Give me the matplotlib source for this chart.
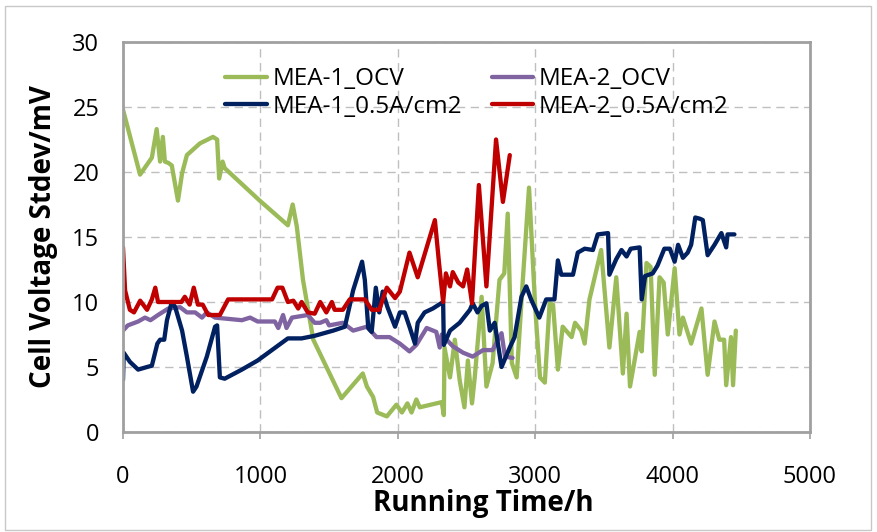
import matplotlib
matplotlib.use("Agg")
import matplotlib.pyplot as plt
from matplotlib.patches import Rectangle

plt.rcParams['font.family'] = ['Open Sans', 'DejaVu Sans']

# ---- data ----
green_t = [0, 124, 210, 245, 270, 290, 305, 330, 355, 400, 430, 465, 560, 655, 685, 700, 725, 740,
           995, 1200, 1235, 1265, 1310, 1385, 1590, 1745, 1775, 1820, 1850, 1920, 1990, 2030, 2070,
           2100, 2135, 2160, 2320, 2335, 2340, 2380, 2415, 2450, 2485, 2510, 2540, 2560, 2610, 2645,
           2690, 2740, 2775, 2800, 2830, 2865, 2910, 2955, 3000, 3035, 3070, 3105, 3130, 3165, 3200,
           3265, 3290, 3335, 3360, 3395, 3480, 3540, 3590, 3638, 3665, 3690, 3760, 3775, 3810, 3840,
           3870, 3905, 3935, 3965, 4015, 4050, 4075, 4135, 4210, 4255, 4305, 4340, 4375, 4390, 4425,
           4440, 4460]
green_v = [24.8, 19.8, 21.1, 23.3, 20.8, 22.7, 20.8, 20.7, 20.5, 17.8, 19.9, 21.3, 22.2, 22.7, 22.5,
           19.5, 20.8, 20.3, 17.8, 15.9, 17.5, 15.8, 11.7, 7.1, 2.6, 4.5, 3.5, 2.7, 1.5, 1.2, 2.1, 1.5,
           2.2, 1.5, 2.5, 1.9, 2.3, 1.3, 6.5, 4.2, 7.1, 4.0, 1.9, 5.5, 2.2, 4.2, 10.4, 3.5, 5.3, 11.7,
           12.2, 16.8, 5.3, 4.2, 11.7, 18.8, 9.6, 4.2, 3.8, 9.9, 9.8, 4.8, 8.1, 7.3, 8.4, 7.8, 6.8,
           10.2, 14.0, 6.5, 11.9, 4.5, 9.1, 3.5, 7.7, 6.2, 13.0, 12.7, 4.4, 11.9, 11.5, 7.5, 12.6, 7.5,
           8.8, 6.8, 9.5, 4.4, 8.5, 7.1, 7.1, 3.6, 7.3, 3.6, 7.8]

purple_t = [0, 35, 110, 160, 200, 255, 330, 415, 465, 525, 575, 610, 670, 865, 925, 980, 1105, 1130,
            1165, 1190, 1230, 1345, 1395, 1435, 1480, 1500, 1600, 1675, 1775, 1845, 1940, 2015, 2085,
            2135, 2210, 2280, 2305, 2320, 2400, 2475, 2545, 2620, 2690, 2755, 2780, 2835]
purple_v = [7.8, 8.2, 8.5, 8.8, 8.6, 9.0, 9.5, 9.6, 9.2, 9.2, 8.8, 9.2, 8.8, 8.6, 8.8, 8.5, 8.5, 8.0,
            9.0, 8.0, 8.8, 9.0, 8.4, 8.4, 8.6, 8.2, 8.4, 7.8, 8.1, 7.3, 7.3, 6.8, 6.2, 6.7, 8.0, 7.7,
            6.5, 7.5, 6.6, 6.1, 5.8, 6.3, 6.3, 7.6, 5.8, 5.7]

navy_t = [0, 5, 50, 110, 175, 210, 250, 270, 300, 320, 355, 380, 430, 465, 510, 535, 610, 670, 685,
          705, 740, 865, 980, 1200, 1300, 1395, 1530, 1615, 1675, 1740, 1760, 1785, 1810, 1840, 1865,
          1890, 1925, 1980, 2015, 2050, 2085, 2125, 2145, 2195, 2255, 2330, 2335, 2380, 2450, 2525,
          2545, 2580, 2610, 2645, 2670, 2705, 2755, 2815, 2850, 2900, 2935, 2970, 3030, 3080, 3140,
          3165, 3190, 3275, 3310, 3360, 3420, 3455, 3530, 3540, 3590, 3628, 3665, 3695, 3760, 3775,
          3800, 3855, 3890, 3940, 3980, 4015, 4040, 4075, 4110, 4135, 4165, 4200, 4220, 4255, 4305,
          4355, 4390, 4400, 4450]
navy_v = [4.0, 6.1, 5.4, 4.8, 5.0, 5.1, 6.8, 7.1, 7.1, 8.6, 10.0, 9.6, 7.8, 5.8, 3.1, 3.5, 5.8, 8.1,
          8.2, 4.2, 4.1, 4.8, 5.5, 7.2, 7.2, 7.4, 7.8, 8.1, 10.9, 13.1, 11.7, 8.0, 7.7, 11.1, 9.2,
          10.8, 9.6, 8.1, 9.2, 9.2, 8.1, 6.8, 8.4, 9.2, 9.5, 10.0, 6.7, 7.8, 8.4, 9.4, 9.9, 9.2, 9.7,
          9.9, 7.8, 8.4, 5.0, 6.5, 7.3, 10.4, 11.2, 10.2, 8.8, 10.2, 10.2, 13.2, 12.1, 12.1, 13.8,
          14.1, 14.0, 15.2, 15.3, 12.1, 13.3, 14.0, 13.5, 14.1, 14.2, 10.2, 12.0, 12.2, 12.8, 14.1,
          14.1, 13.1, 14.4, 13.4, 13.8, 14.4, 16.5, 16.4, 16.3, 13.6, 14.4, 15.3, 14.2, 15.2, 15.2]

red_t = [0, 15, 50, 80, 125, 175, 210, 235, 255, 425, 450, 485, 515, 545, 580, 620, 705, 765, 1085,
         1125, 1160, 1200, 1240, 1275, 1300, 1345, 1395, 1435, 1480, 1520, 1540, 1600, 1650, 1760,
         1810, 1865, 1920, 1980, 2015, 2085, 2145, 2270, 2300, 2330, 2350, 2380, 2400, 2440, 2475,
         2505, 2540, 2590, 2645, 2715, 2765, 2815]
red_v = [14.2, 10.9, 9.4, 9.2, 10.1, 9.4, 10.2, 11.1, 10.0, 10.0, 10.4, 9.8, 11.1, 9.8, 9.8, 9.0,
         9.0, 10.2, 10.2, 11.1, 11.1, 10.0, 10.1, 9.5, 10.0, 9.2, 9.1, 10.0, 9.2, 10.0, 9.4, 9.4,
         10.2, 10.2, 9.4, 9.4, 11.1, 10.3, 10.8, 13.8, 11.9, 16.3, 13.0, 10.0, 12.2, 11.2, 12.3,
         11.5, 11.2, 12.5, 9.9, 19.0, 11.2, 22.5, 17.7, 21.3]

labels = ['MEA-1_OCV', 'MEA-2_OCV', 'MEA-1_0.5A/cm2', 'MEA-2_0.5A/cm2']
colors = ['#9BBB59', '#8064A2', '#002060', '#C00000']
x_ticks = [0, 1000, 2000, 3000, 4000, 5000]
y_ticks = [0, 5, 10, 15, 20, 25, 30]

# ---- figure ----
W, H = 877, 532
fig = plt.figure(figsize=(W / 100, H / 100), dpi=100)
fig.patches.append(Rectangle((5 / W, 2 / H), 866 / W, 524 / H, transform=fig.transFigure,
                             fill=False, edgecolor='#C8C8C8', linewidth=1.0))
ax = fig.add_axes([123 / W, (H - 432) / H, (810 - 123) / W, (432 - 42) / H])

lw = 3.1
kw = dict(linewidth=lw, solid_joinstyle='round', solid_capstyle='round')
lg, = ax.plot(green_t, green_v, color=colors[0], label=labels[0], **kw)
lp, = ax.plot(purple_t, purple_v, color=colors[1], label=labels[1], **kw)
ln, = ax.plot(navy_t, navy_v, color=colors[2], label=labels[2], **kw)
lr, = ax.plot(red_t, red_v, color=colors[3], label=labels[3], **kw)

ax.set_xlim(0, 5000)
ax.set_ylim(0, 30)
ax.set_xticks(x_ticks)
ax.set_yticks(y_ticks)
ax.grid(True, color='#BFBFBF', linestyle=(0, (6, 4)), linewidth=1.0)
ax.set_axisbelow(True)
for s in ax.spines.values():
    s.set_color('#A0A0A0')
    s.set_linewidth(2.0)
ax.tick_params(axis='x', length=5, width=1.2, color='#A0A0A0', pad=19, labelsize=17)
ax.tick_params(axis='y', length=0, pad=17, labelsize=17)

ax.set_xlabel('Running Time/h', fontsize=20, fontweight='bold')
ax.set_ylabel('Cell Voltage Stdev/mV', fontsize=20, fontweight='bold', labelpad=10)
ax.xaxis.set_label_coords(0.525, -0.145)

leg = ax.legend(handles=[lg, ln, lp, lr], ncol=2, loc='upper left',
                bbox_to_anchor=(0.135, 0.96), frameon=False, fontsize=17.5,
                handlelength=1.7, handletextpad=0.25, columnspacing=1.2,
                labelspacing=0.15, borderaxespad=0)

fig.savefig('out.png', dpi=100)
